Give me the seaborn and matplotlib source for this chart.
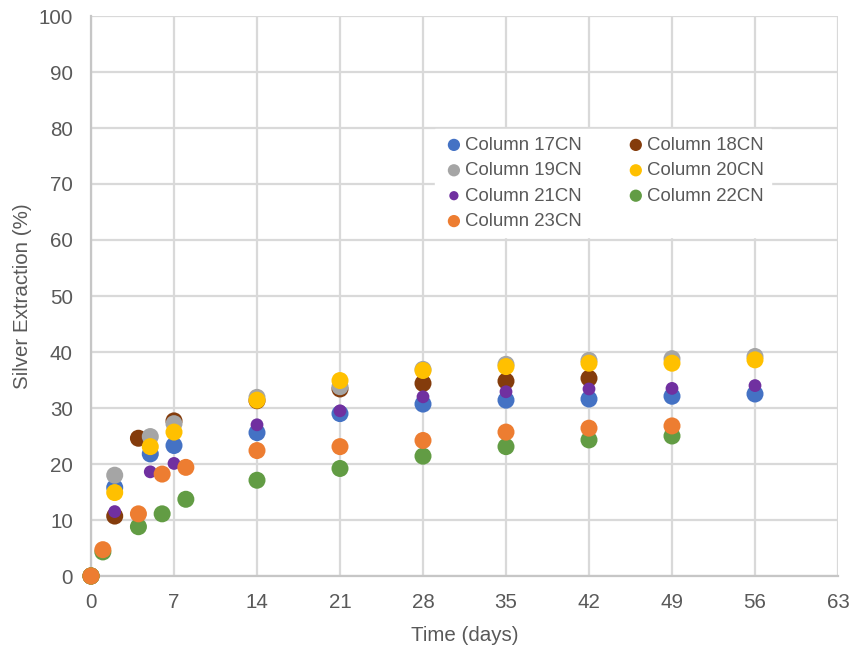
import matplotlib
matplotlib.use("Agg")
import matplotlib.pyplot as plt
import seaborn as sns

sns.set_theme(style="white")
plt.rcParams['font.family'] = ['Liberation Sans', 'DejaVu Sans']

series_names = ["Column 17CN", "Column 18CN", "Column 19CN", "Column 20CN",
                "Column 21CN", "Column 22CN", "Column 23CN"]
colors = ["#4472C4", "#843C0C", "#A5A5A5", "#FFC000", "#7030A0", "#629C44", "#ED7D31"]

days_17 = [0, 2, 5, 7, 14, 21, 28, 35, 42, 49, 56]
ext_17 = [0, 15.8, 21.8, 23.3, 25.6, 29.0, 30.7, 31.4, 31.6, 32.1, 32.5]

days_18 = [0, 2, 4, 7, 14, 21, 28, 35, 42]
ext_18 = [0, 10.7, 24.6, 27.7, 31.3, 33.4, 34.4, 34.8, 35.3]

days_19 = [0, 2, 5, 7, 14, 21, 28, 35, 42, 49, 56]
ext_19 = [0, 18.0, 24.9, 27.2, 31.9, 33.8, 36.9, 37.8, 38.5, 38.8, 39.2]

days_20 = [0, 2, 5, 7, 14, 21, 28, 35, 42, 49, 56]
ext_20 = [0, 14.9, 23.1, 25.7, 31.4, 34.9, 36.7, 37.4, 38.0, 38.0, 38.6]

days_21 = [0, 2, 5, 7, 14, 21, 28, 35, 42, 49, 56]
ext_21 = [0, 11.5, 18.6, 20.1, 27.0, 29.5, 32.0, 32.9, 33.4, 33.5, 34.0]

days_22 = [0, 1, 4, 6, 8, 14, 21, 28, 35, 42, 49]
ext_22 = [0, 4.3, 8.8, 11.1, 13.7, 17.1, 19.2, 21.4, 23.1, 24.3, 25.0]

days_23 = [0, 1, 4, 6, 8, 14, 21, 28, 35, 42, 49]
ext_23 = [0, 4.7, 11.1, 18.2, 19.4, 22.4, 23.1, 24.2, 25.7, 26.4, 26.8]

x_ticks = [0, 7, 14, 21, 28, 35, 42, 49, 56, 63]
y_ticks = [0, 10, 20, 30, 40, 50, 60, 70, 80, 90, 100]

all_days = [days_17, days_18, days_19, days_20, days_21, days_22, days_23]
all_ext = [ext_17, ext_18, ext_19, ext_20, ext_21, ext_22, ext_23]
sizes = [150, 150, 150, 150, 85, 150, 150]

fig = plt.figure(figsize=(8.56, 6.5), dpi=100)
ax = fig.add_axes([91/856, 1-576/650, (838-91)/856, (576-16)/650])

for i, (d, e) in enumerate(zip(all_days, all_ext)):
    sns.scatterplot(x=d, y=e, color=colors[i], s=sizes[i], edgecolor="none",
                    linewidth=0, label=series_names[i], ax=ax, zorder=3+i,
                    clip_on=False)

ax.set_xlim(0, 63)
ax.set_ylim(0, 100)
ax.set_xticks(x_ticks)
ax.set_yticks(y_ticks)
ax.grid(True, color="#D9D9D9", linewidth=1.6)
ax.set_axisbelow(True)
for s in ["top", "right"]:
    ax.spines[s].set_visible(False)
for s in ["left", "bottom"]:
    ax.spines[s].set_color("#C6C6C6")
    ax.spines[s].set_linewidth(1.6)
ax.tick_params(axis="both", length=0, labelsize=14.8, colors="#595959")
ax.tick_params(axis="y", pad=13)
ax.tick_params(axis="x", pad=12)
ax.set_xlabel("Time (days)", fontsize=14.8, color="#595959", labelpad=10)
ax.set_ylabel("Silver Extraction (%)", fontsize=14.8, color="#595959", labelpad=5)

handles, labels = ax.get_legend_handles_labels()
order = [0, 2, 4, 6, 1, 3, 5]
leg = ax.legend([handles[k] for k in order], [labels[k] for k in order],
                loc="upper left", bbox_to_anchor=(426/856, 1-120/650),
                bbox_transform=fig.transFigure, ncol=2, frameon=True,
                fontsize=13.4, markerscale=0.72, handletextpad=0.0,
                columnspacing=2.3, labelspacing=0.45, borderpad=0.4,
                handlelength=1.2, fancybox=False)
leg.get_frame().set_facecolor("white")
leg.get_frame().set_edgecolor("white")
leg.get_frame().set_alpha(1)
leg.set_zorder(20)
for t in leg.get_texts():
    t.set_color("#595959")

fig.savefig("out.png", dpi=100)
